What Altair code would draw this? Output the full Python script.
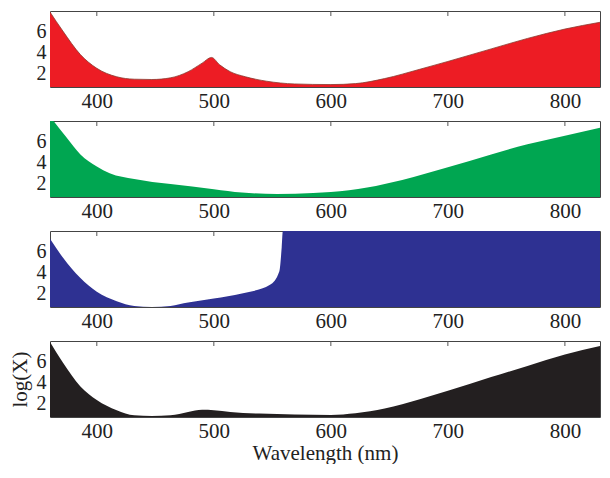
import altair as alt
import pandas as pd

# Wavelength (nm) and log(X) values, per panel
wl_red = [360, 371, 386, 400, 417, 432, 447, 463, 478, 490, 498, 505, 514, 527, 545, 569, 600, 621, 646, 676, 700, 737, 768, 800, 830]
val_red = [7.8, 6.0, 3.77, 2.47, 1.67, 1.44, 1.41, 1.57, 2.15, 2.96, 3.5, 2.8, 2.15, 1.67, 1.25, 0.99, 0.93, 1.02, 1.5, 2.38, 3.12, 4.31, 5.3, 6.19, 6.83]

wl_green = [360, 363, 374, 386, 400, 411, 432, 463, 500, 524, 554, 585, 600, 631, 661, 700, 737, 768, 800, 830]
val_green = [8.3, 7.9, 6.35, 4.73, 3.6, 2.96, 2.41, 1.92, 1.44, 1.12, 0.99, 1.09, 1.18, 1.6, 2.31, 3.51, 4.73, 5.7, 6.51, 7.25]

wl_blue = [360, 371, 386, 400, 417, 432, 447, 463, 478, 500, 524, 548, 556, 558, 559, 830]
val_blue = [7.16, 5.38, 3.44, 2.15, 1.25, 0.8, 0.7, 0.8, 1.12, 1.5, 1.99, 2.8, 4.09, 6.35, 7.9, 7.9]

wl_black = [360, 371, 386, 400, 417, 432, 447, 463, 478, 490, 500, 514, 539, 569, 600, 621, 646, 676, 700, 737, 768, 800, 830]
val_black = [7.8, 5.86, 3.6, 2.31, 1.34, 0.86, 0.8, 0.86, 1.18, 1.38, 1.34, 1.18, 1.02, 0.93, 0.9, 1.05, 1.5, 2.38, 3.18, 4.48, 5.54, 6.61, 7.42]

x_ticks = [400, 500, 600, 700, 800]
y_ticks = [2, 4, 6]
x_domain = [360, 830]
y_domain = [0.7, 7.9]

FONT = "Liberation Serif"
W, H = 550, 76

ticks_df = pd.DataFrame({"wl": x_ticks})


def panel(wl, vals, color, outline, last):
    df = pd.DataFrame({"wl": wl, "v": vals})
    xaxis = alt.Axis(values=x_ticks, title="Wavelength (nm)" if last else None,
                     labelPadding=3, titlePadding=1)
    if last:
        yaxis = alt.Axis(values=y_ticks, title="log(X)", labelPadding=4,
                         labelFontSize=20, titleX=-30, titleY=38, titleAngle=270,
                         titleBaseline="middle", titleAlign="center")
    else:
        yaxis = alt.Axis(values=y_ticks, title="", labelPadding=4, labelFontSize=20)
    top_ticks = alt.Chart(ticks_df).mark_rule(color="#555555", strokeWidth=1).encode(
        x=alt.X("wl:Q", scale=alt.Scale(domain=x_domain, nice=False), axis=xaxis),
        y=alt.value(0), y2=alt.value(5))
    area_kw = dict(color=color, opacity=1, interpolate="monotone", clip=True)
    if outline:
        area_kw["line"] = {"color": outline, "strokeWidth": 0.8}
    area = alt.Chart(df).mark_area(**area_kw).encode(
        x=alt.X("wl:Q", scale=alt.Scale(domain=x_domain, nice=False), axis=xaxis),
        y=alt.Y("v:Q", scale=alt.Scale(domain=y_domain, nice=False, zero=False), axis=yaxis))
    return alt.layer(top_ticks, area).properties(width=W, height=H)


chart = alt.vconcat(
    panel(wl_red, val_red, "#ED1C24", "#8a3a2e", False),
    panel(wl_green, val_green, "#00A651", None, False),
    panel(wl_blue, val_blue, "#2E3192", None, False),
    panel(wl_black, val_black, "#231F20", None, True),
    spacing=8,
).properties(
    padding={"left": 0, "top": 2, "right": 0, "bottom": 0}
).configure_view(
    stroke="#444444", strokeWidth=1
).configure_axis(
    labelFont=FONT, labelFontSize=21, labelColor="#222222",
    titleFont=FONT, titleFontSize=21, titleFontWeight="normal", titleColor="#222222",
    ticks=False, domain=False, grid=False
)

chart.save("out.html", embed_options={"renderer": "svg", "actions": False})
